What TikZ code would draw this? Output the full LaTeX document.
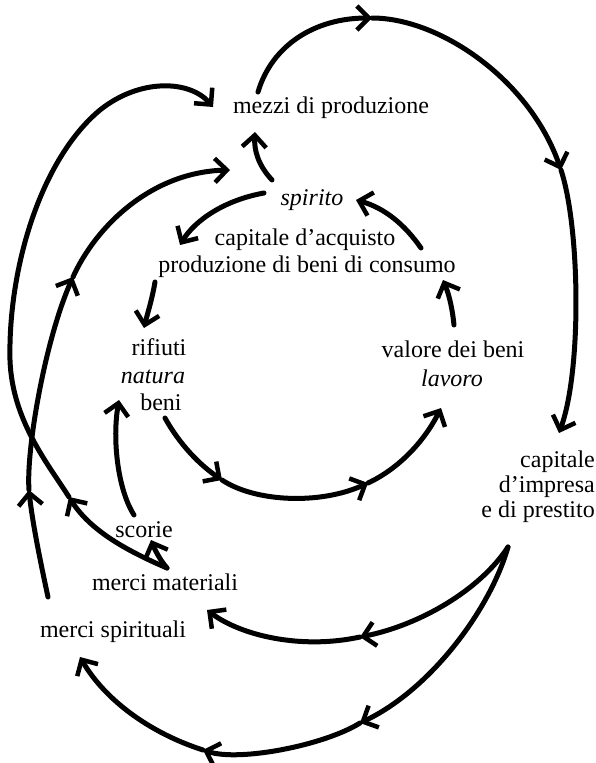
\documentclass[tikz,border=0pt]{standalone}
\usepackage{fontspec}
\setmainfont{Liberation Serif}
\usetikzlibrary{arrows.meta}
\begin{document}
\begin{tikzpicture}[x=1pt,y=-1pt,
  lbl/.style={inner sep=0pt, font=\fontsize{24}{25}\selectfont, align=center},
  ln/.style={line width=5pt, line cap=round},
  arr/.style={ln, -{Straight Barb[length=12pt,width=24pt,line width=4.5pt]}}]
\useasboundingbox (0,0) rectangle (596,763);
% ---------- text nodes
\node[lbl] (mezzi) at (331,108) {mezzi di produzione};
\node[lbl] (spirito) at (312,200) {\itshape spirito};
\node[lbl] (capacq) at (305,240) {capitale d’acquisto};
\node[lbl] (prod) at (307,267) {produzione di beni di consumo};
\node[lbl] (rifiuti) at (159,347) {rifiuti};
\node[lbl] (natura) at (153,377) {\itshape natura};
\node[lbl] (beni) at (161,402) {beni};
\node[lbl] (valore) at (453,349) {valore dei beni};
\node[lbl] (lavoro) at (452,378) {\itshape lavoro};
\node[lbl, align=right, anchor=east] (capimp) at (595,487) {capitale\\d’impresa\\e di prestito};
\node[lbl] (scorie) at (144,530) {scorie};
\node[lbl] (mm) at (165,582) {merci materiali};
\node[lbl] (ms) at (113,632) {merci spirituali};
% ---------- connector end points
\coordinate (mzT) at (258,92);
\coordinate (mzL) at (213,107);
\coordinate (mzB) at (255,132);
\coordinate (spB) at (272,180);
\coordinate (spL) at (264,193);
\coordinate (spR) at (356,200);
\coordinate (spW) at (230,170);
\coordinate (caL) at (180,245);
\coordinate (caR) at (421,248);
\coordinate (prL) at (155,282);
\coordinate (prR) at (443,280);
\coordinate (riT) at (144,328);
\coordinate (vaT) at (454,325);
\coordinate (naL) at (119,400);
\coordinate (beB) at (165,418);
\coordinate (laB) at (441,408);
\coordinate (ciT) at (559,433);
\coordinate (ciB) at (508,547);
\coordinate (scB) at (134,515);
\coordinate (scT) at (151,540);
\coordinate (mmT) at (167,568);
\coordinate (mmR) at (207,610);
\coordinate (msT) at (80,657);
\coordinate (msL) at (48,597);
% mid-arrow points
\coordinate (t1) at (372,18);
\coordinate (t2) at (561,170);
\coordinate (o1) at (69,497);
\coordinate (i1) at (29,490);
\coordinate (i2) at (73,277);
\coordinate (b1) at (222,480);
\coordinate (b2) at (368,483);
\coordinate (c1) at (360,637);
\coordinate (d1) at (360,723);
\coordinate (d2) at (203,750);
% ---------- big top-right loop
\draw[arr] (mzT) .. controls (272,45) and (315,18) .. (t1);
\draw[arr] (t1) .. controls (440,18) and (530,80) .. (t2);
\draw[arr] (t2) .. controls (580,228) and (582,370) .. (ciT);
% ---------- outer left loop (merci materiali -> mezzi)
\draw[arr] (mmT) .. controls (125,550) and (90,530) .. (o1);
\draw[arr] (o1) .. controls (48,464) and (12,420) .. (10,360)
  .. controls (8,270) and (40,160) .. (100,110)
  .. controls (140,78) and (190,80) .. (mzL);
% ---------- inner left loop (merci spirituali -> spirito)
\draw[arr] (msL) .. controls (40,560) and (32,520) .. (i1);
\draw[arr] (i1) .. controls (26,450) and (45,340) .. (i2);
\draw[arr] (i2) .. controls (95,228) and (150,172) .. (spW);
% ---------- inner cycle
\draw[arr] (spB) .. controls (258,165) and (254,150) .. (mzB);
\draw[arr] (spL) .. controls (225,200) and (195,220) .. (caL);
\draw[arr] (caR) .. controls (405,225) and (385,208) .. (spR);
\draw[arr] (prL) .. controls (152,300) and (147,315) .. (riT);
\draw[arr] (vaT) .. controls (452,305) and (448,292) .. (prR);
\draw[arr] (beB) .. controls (180,445) and (200,465) .. (b1);
\draw[arr] (b1) .. controls (255,502) and (320,505) .. (b2);
\draw[arr] (b2) .. controls (400,468) and (425,440) .. (laB);
\draw[arr] (scB) .. controls (118,490) and (112,440) .. (naL);
\draw[arr] (mmT) .. controls (160,560) and (155,550) .. (scT);
% ---------- from capitale d'impresa
\draw[arr] (ciB) .. controls (480,590) and (420,625) .. (c1);
\draw[arr] (c1) .. controls (300,650) and (240,635) .. (mmR);
\draw[arr] (ciB) .. controls (490,610) and (430,690) .. (d1);
\draw[arr] (d1) .. controls (325,745) and (240,762) .. (d2);
\draw[arr] (d2) .. controls (150,733) and (105,700) .. (msT);
\end{tikzpicture}
\end{document}
